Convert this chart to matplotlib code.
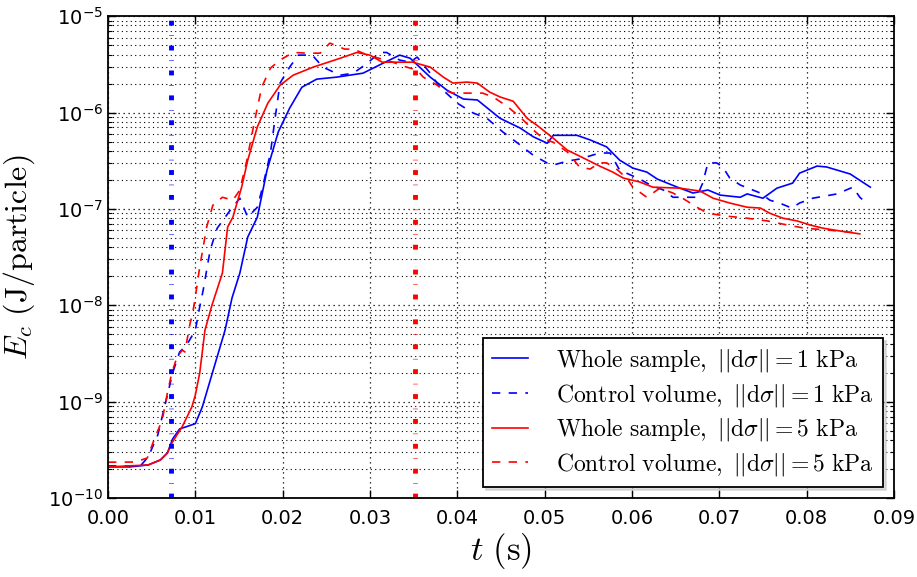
import numpy as np
import matplotlib
matplotlib.use("Agg")
import matplotlib.pyplot as plt
from matplotlib.ticker import FuncFormatter, LogLocator, MultipleLocator

plt.rcParams['mathtext.fontset'] = 'cm'

# Whole sample, 1 kPa
t_ws1 = [0.0, 0.0025, 0.0046, 0.0060, 0.0068, 0.0074, 0.0082, 0.0100, 0.0108, 0.0134,
         0.0142, 0.0151, 0.0160, 0.0171, 0.0182, 0.0195, 0.0208, 0.0222, 0.0239, 0.0262,
         0.0292, 0.0315, 0.0334, 0.0346, 0.0369, 0.0388, 0.0407, 0.0423, 0.0449, 0.0472,
         0.0487, 0.0503, 0.0510, 0.0537, 0.0552, 0.0571, 0.0586, 0.0601, 0.0617, 0.0629,
         0.0652, 0.0670, 0.0687, 0.0701, 0.0724, 0.0732, 0.0750, 0.0766, 0.0784, 0.0792,
         0.0812, 0.0823, 0.0850, 0.0873]
e_ws1 = [2.1e-10, 2.1e-10, 2.2e-10, 2.48e-10, 2.93e-10, 4.1e-10, 5.2e-10, 5.9e-10, 8.8e-10, 5.5e-9,
         1.19e-8, 2.16e-8, 5.1e-8, 8.2e-8, 2.5e-7, 6.3e-7, 1.11e-6, 1.83e-6, 2.22e-6, 2.33e-6,
         2.56e-6, 3.25e-6, 3.94e-6, 3.66e-6, 2.33e-6, 1.71e-6, 1.38e-6, 1.35e-6, 8.7e-7, 6.9e-7,
         5.6e-7, 4.8e-7, 5.8e-7, 5.8e-7, 5.2e-7, 4.4e-7, 3.2e-7, 2.65e-7, 2.41e-7, 2.04e-7,
         1.68e-7, 1.46e-7, 1.57e-7, 1.39e-7, 1.32e-7, 1.43e-7, 1.29e-7, 1.64e-7, 1.85e-7, 2.35e-7,
         2.78e-7, 2.72e-7, 2.30e-7, 1.68e-7]

# Control volume, 1 kPa
t_cv1 = [0.0, 0.0037, 0.0046, 0.0057, 0.0068, 0.0074, 0.0082, 0.0090, 0.0100, 0.0105,
         0.0109, 0.0117, 0.0125, 0.0140, 0.0151, 0.0160, 0.0171, 0.0177, 0.0186, 0.0191,
         0.0197, 0.0208, 0.0218, 0.0234, 0.0246, 0.0266, 0.0281, 0.0297, 0.0311, 0.0319,
         0.0334, 0.0346, 0.0354, 0.0369, 0.0380, 0.0400, 0.0418, 0.0434, 0.0452, 0.0472,
         0.0487, 0.0503, 0.0510, 0.0526, 0.0540, 0.0563, 0.0575, 0.0586, 0.0609, 0.0621,
         0.0636, 0.0647, 0.0674, 0.0681, 0.0687, 0.0697, 0.0704, 0.0712, 0.0724, 0.0747,
         0.0758, 0.0769, 0.0783, 0.0792, 0.0807, 0.0835, 0.0853, 0.0861, 0.0867]
e_cv1 = [2.15e-10, 2.15e-10, 2.66e-10, 4.5e-10, 1.17e-9, 1.98e-9, 3.27e-9, 3.86e-9, 5.5e-9, 9.6e-9,
         1.44e-8, 3.74e-8, 6.3e-8, 9.7e-8, 1.29e-7, 8.2e-8, 1.04e-7, 1.68e-7, 3.8e-7, 8.3e-7,
         2.02e-6, 2.96e-6, 3.94e-6, 3.94e-6, 2.96e-6, 2.44e-6, 2.56e-6, 3.25e-6, 4.2e-6, 4.2e-6,
         3.5e-6, 3.33e-6, 3.76e-6, 2.56e-6, 1.83e-6, 1.25e-6, 9.9e-7, 8.7e-7, 6.3e-7, 4.6e-7,
         3.6e-7, 2.99e-7, 2.85e-7, 3.13e-7, 3.29e-7, 3.8e-7, 3.8e-7, 2.52e-7, 2.04e-7, 1.77e-7,
         1.57e-7, 1.32e-7, 1.32e-7, 1.85e-7, 2.99e-7, 3.0e-7, 2.72e-7, 2.09e-7, 1.77e-7, 1.46e-7,
         1.23e-7, 1.15e-7, 1.02e-7, 1.15e-7, 1.29e-7, 1.43e-7, 1.68e-7, 1.32e-7, 1.18e-7]

# Whole sample, 5 kPa
t_ws5 = [0.0, 0.0046, 0.0060, 0.0068, 0.0073, 0.0085, 0.0096, 0.0100, 0.0105, 0.0111,
         0.0119, 0.0131, 0.0137, 0.0143, 0.0153, 0.0160, 0.0171, 0.0183, 0.0197, 0.0212,
         0.0235, 0.0266, 0.0285, 0.0300, 0.0314, 0.0349, 0.0369, 0.0384, 0.0395, 0.0411,
         0.0423, 0.0437, 0.0449, 0.0464, 0.0480, 0.0491, 0.0510, 0.0526, 0.0540, 0.0563,
         0.0578, 0.0590, 0.0609, 0.0624, 0.0655, 0.0678, 0.0693, 0.0712, 0.0732, 0.0747,
         0.0758, 0.0773, 0.0789, 0.0804, 0.0819, 0.0838, 0.0861]
e_ws5 = [2.1e-10, 2.2e-10, 2.48e-10, 2.93e-10, 3.7e-10, 5.5e-10, 8.8e-10, 1.17e-9, 1.98e-9, 5.5e-9,
         1.0e-8, 2.16e-8, 6.5e-8, 8.2e-8, 1.68e-7, 3.2e-7, 7.1e-7, 1.25e-6, 1.92e-6, 2.44e-6,
         2.96e-6, 3.66e-6, 4.2e-6, 3.94e-6, 3.33e-6, 3.33e-6, 2.96e-6, 2.33e-6, 2.02e-6, 2.07e-6,
         2.02e-6, 1.63e-6, 1.45e-6, 1.31e-6, 8.7e-7, 7.4e-7, 5.4e-7, 4.07e-7, 3.53e-7, 2.78e-7,
         2.41e-7, 2.09e-7, 1.9e-7, 1.68e-7, 1.64e-7, 1.53e-7, 1.29e-7, 1.15e-7, 1.04e-7, 1.02e-7,
         9.0e-8, 8.0e-8, 7.5e-8, 6.8e-8, 6.3e-8, 5.9e-8, 5.5e-8]

# Control volume, 5 kPa
t_cv5 = [0.0, 0.0031, 0.0045, 0.0054, 0.0062, 0.0068, 0.0073, 0.0079, 0.0085, 0.0088,
         0.0094, 0.0097, 0.0100, 0.0105, 0.0113, 0.0120, 0.0131, 0.0143, 0.0151, 0.0159,
         0.0168, 0.0176, 0.0186, 0.0197, 0.0212, 0.0228, 0.0243, 0.0254, 0.0260, 0.0271,
         0.0281, 0.0300, 0.0319, 0.0342, 0.0354, 0.0361, 0.0377, 0.0384, 0.0395, 0.0429,
         0.0441, 0.0457, 0.0472, 0.0487, 0.0498, 0.0510, 0.0526, 0.0540, 0.0552, 0.0563,
         0.0571, 0.0581, 0.0594, 0.0601, 0.0617, 0.0632, 0.0647, 0.0658, 0.0676, 0.0687,
         0.0709, 0.0732, 0.0755, 0.0778, 0.0798, 0.0827, 0.0861]
e_cv5 = [2.35e-10, 2.36e-10, 2.6e-10, 4.3e-10, 6.4e-10, 1.23e-9, 1.98e-9, 2.9e-9, 3.43e-9, 3.27e-9,
         6.5e-9, 8.3e-9, 1.22e-8, 2.49e-8, 6.5e-8, 1.09e-7, 1.32e-7, 1.23e-7, 1.57e-7, 3.2e-7,
         8.3e-7, 1.83e-6, 2.89e-6, 3.5e-6, 4.2e-6, 4.13e-6, 4.13e-6, 5.25e-6, 5.0e-6, 4.55e-6,
         4.55e-6, 3.85e-6, 3.5e-6, 2.96e-6, 2.75e-6, 2.33e-6, 1.92e-6, 1.71e-6, 1.59e-6, 1.59e-6,
         1.45e-6, 1.16e-6, 8.96e-7, 6.6e-7, 5.4e-7, 4.9e-7, 3.9e-7, 2.72e-7, 2.59e-7, 3.0e-7,
         3.0e-7, 2.65e-7, 2.09e-7, 1.68e-7, 1.32e-7, 1.64e-7, 1.46e-7, 1.29e-7, 1.02e-7, 9.0e-8,
         8.4e-8, 8.0e-8, 7.5e-8, 6.8e-8, 6.3e-8, 6.0e-8, 5.6e-8]

# vertical marker times
t_mark_1kpa = 0.0072
t_mark_5kpa = 0.0352

labels = [r'$\mathrm{Whole\ sample,}\ ||\mathrm{d}\sigma||=1\ \mathrm{kPa}$',
          r'$\mathrm{Control\ volume,}\ ||\mathrm{d}\sigma||=1\ \mathrm{kPa}$',
          r'$\mathrm{Whole\ sample,}\ ||\mathrm{d}\sigma||=5\ \mathrm{kPa}$',
          r'$\mathrm{Control\ volume,}\ ||\mathrm{d}\sigma||=5\ \mathrm{kPa}$']

fig = plt.figure(figsize=(9.17, 5.77), dpi=100)
ax = fig.add_axes([0.1178, 0.137, 0.857, 0.835])

dash = (0, (5, 5))
ax.plot(t_ws1, e_ws1, color='#0000ff', lw=1.2, label=labels[0])
ax.plot(t_cv1, e_cv1, color='#0000ff', lw=1.2, ls=dash, label=labels[1])
ax.plot(t_ws5, e_ws5, color='#ff0000', lw=1.2, label=labels[2])
ax.plot(t_cv5, e_cv5, color='#ff0000', lw=1.2, ls=dash, label=labels[3])

vstyle = (0, (1, 2.0, 0.12, 2.0))
ax.axvline(t_mark_1kpa, color='#0000ff', lw=3.5, ls=vstyle, dash_capstyle='butt')
ax.axvline(t_mark_5kpa, color='#ff0000', lw=3.5, ls=vstyle, dash_capstyle='butt')

ax.set_yscale('log')
ax.set_xlim(0, 0.09)
ax.set_ylim(1e-10, 1e-5)
ax.xaxis.set_major_locator(MultipleLocator(0.01))
ax.xaxis.set_major_formatter(FuncFormatter(lambda v, p: f'{v:.2f}'))
ax.yaxis.set_major_locator(LogLocator(base=10, numticks=10))
ax.yaxis.set_minor_locator(LogLocator(base=10, subs=np.arange(2, 10), numticks=20))
ax.yaxis.set_major_formatter(FuncFormatter(
    lambda v, p: r'$\mathregular{10^{%d}}$' % int(round(np.log10(v)))))

gstyle = (0, (1, 3))
ax.grid(True, which='major', axis='both', ls=gstyle, color='k', lw=0.9)
ax.grid(True, which='minor', axis='y', ls=gstyle, color='k', lw=0.8)
ax.tick_params(which='both', direction='in', top=True, right=True, labelsize=14)
ax.tick_params(axis='x', pad=8)
ax.tick_params(which='major', length=6, width=1)
ax.tick_params(which='minor', length=3, width=0.8)
for s in ax.spines.values():
    s.set_linewidth(1.3)

ax.set_xlabel(r'$t\ (\mathrm{s})$', fontsize=25, labelpad=2)
ax.set_ylabel(r'$E_c\ (\mathrm{J/particle})$', fontsize=23, labelpad=8)

leg = ax.legend(loc='lower right', fontsize=17, handlelength=1.5, handletextpad=1.2,
                borderaxespad=0.45, borderpad=0.4, labelspacing=0.32, fancybox=False,
                shadow={'color': '0.75', 'alpha': 0.5}, framealpha=1)
leg.get_frame().set_edgecolor('k')
leg.get_frame().set_linewidth(1.3)

fig.savefig('out.png', dpi=100)
